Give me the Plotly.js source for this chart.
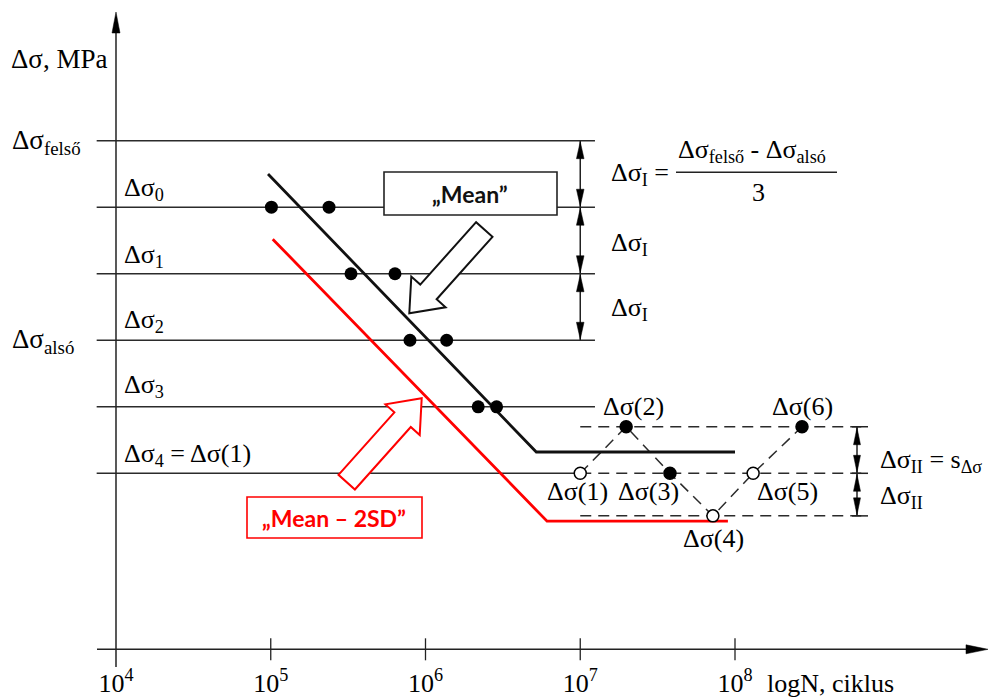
<!DOCTYPE html>
<html><head><meta charset="utf-8">
<script src="https://cdn.plot.ly/plotly-3.0.1.min.js"></script>
<style>html,body{margin:0;padding:0;background:#fff;}#chart{width:989px;height:699px;}</style>
</head><body><div id="chart"></div>
<script>
// ---------------- data (schematic values) ----------------
const levelSubs   = ['felső', '0', '1', '2', '3', '4'];
const levelValues = [350, 300, 250, 200, 150, 100];          // Δσ levels (MPa, schematic)
const levelStartN = 7.5e3;
const levelEndN   = [1.245e7, 1.245e7, 1.245e7, 1.245e7, 1.245e7, 1.0e7];

const testN = [1.01e5, 2.38e5, 3.30e5, 6.35e5, 7.94e5, 1.37e6, 2.19e6, 2.88e6];
const testS = [300, 300, 250, 250, 200, 200, 150, 150];

const meanN = [9.6e4, 5.2e6, 1.0e8];
const meanS = [325, 116, 116];
const lowN  = [1.03e5, 6.1e6, 9.0e7];
const lowS  = [276, 64, 64];

const stairN      = [1.0e7, 1.98e7, 3.8e7, 7.2e7, 1.31e8, 2.71e8];
const stairS      = [100, 135, 100, 68, 100, 135];
const stairFailed = [false, true, true, false, false, true];
const stairLabels = ['Δσ(1)', 'Δσ(2)', 'Δσ(3)', 'Δσ(4)', 'Δσ(5)', 'Δσ(6)'];

const stairLevels = [135, 100, 68];
const stairLevelStartN = 1.0e7;
const stairLevelEndN   = 7.24e8;

const tickVals = [1e4, 1e5, 1e6, 1e7, 1e8];
const tickText = ['10<sup>4</sup>', '10<sup>5</sup>', '10<sup>6</sup>', '10<sup>7</sup>', '10<sup>8</sup>'];

// ---------------- helpers ----------------
const W = 989, H = 699;
const XR = [3.2504, 9.6414], YR = [-69.65, 455.76];
const lx = N => Math.log10(N);
const PX = L => (L - XR[0]) / (XR[1] - XR[0]) * W;
const PY = s => (YR[1] - s) / (YR[1] - YR[0]) * H;
const pp = (x, y) => (x / W).toFixed(5) + ',' + (1 - y / H).toFixed(5);
const SERIF = 'Liberation Serif';
const RED = '#ff0000';

function segs(list) {
  const x = [], y = [];
  list.forEach(s => { x.push(s[0][0], s[1][0], null); y.push(s[0][1], s[1][1], null); });
  return {x, y};
}
function poly(pts, color, fill, width) {
  return {type: 'path', xref: 'paper', yref: 'paper', layer: 'above',
    path: pts.map((p, i) => (i ? 'L' : 'M') + pp(p[0], p[1])).join(' ') + ' Z',
    line: {color, width: width || 0}, fillcolor: fill};
}
function pline(x0, y0, x1, y1, color, width) {
  return {type: 'line', xref: 'paper', yref: 'paper', layer: 'above',
    x0: x0 / W, y0: 1 - y0 / H, x1: x1 / W, y1: 1 - y1 / H, line: {color, width}};
}
function head(tx, ty, dx, dy, len, hw, color) {
  const n = Math.hypot(dx, dy), ux = dx / n, uy = dy / n;
  const bx = tx - ux * len, by = ty - uy * len;
  return poly([[tx, ty], [bx - uy * hw, by + ux * hw], [bx + uy * hw, by - ux * hw]], color, color, 0.5);
}
function hollowArrow(tip, tail, shaftW, headW, headL, color) {
  const dx = tip[0] - tail[0], dy = tip[1] - tail[1], n = Math.hypot(dx, dy);
  const ux = dx / n, uy = dy / n, nx = -uy, ny = ux;
  const bx = tip[0] - ux * headL, by = tip[1] - uy * headL;
  const s = shaftW / 2, h = headW / 2;
  const pts = [
    [tail[0] + nx * s, tail[1] + ny * s], [bx + nx * s, by + ny * s], [bx + nx * h, by + ny * h],
    tip, [bx - nx * h, by - ny * h], [bx - nx * s, by - ny * s], [tail[0] - nx * s, tail[1] - ny * s]];
  return poly(pts, color, '#ffffff', 2);
}
function T(text, x, base, anchor, sub, size, color, family, bold) {
  size = size || 26;
  const yc = base - (sub ? 0.22 : 0.3375) * size;
  return {xref: 'paper', yref: 'paper', x: x / W, y: 1 - yc / H, xanchor: anchor, yanchor: 'middle',
    text: bold ? '<b>' + text + '</b>' : text, showarrow: false, borderpad: 0,
    font: {family: family || SERIF, size, color: color || '#000'}};
}

// ---------------- traces ----------------
const lvl = segs(levelValues.map((v, i) => [[lx(levelStartN), v], [lx(levelEndN[i]), v]]));
const dl = segs(stairLevels.map(v => [[lx(stairLevelStartN), v], [lx(stairLevelEndN), v]]));

const traces = [
  {x: lvl.x, y: lvl.y, mode: 'lines', line: {color: '#2b2b2b', width: 1.5}, hoverinfo: 'skip'},
  {x: dl.x, y: dl.y, mode: 'lines', line: {color: '#2b2b2b', width: 1.5, dash: '11px,7px'}, hoverinfo: 'skip'},
  {x: stairN.map(lx), y: stairS, mode: 'lines', line: {color: '#2b2b2b', width: 1.5, dash: '11px,7px'}, hoverinfo: 'skip'},
  {x: meanN.map(lx), y: meanS, mode: 'lines', line: {color: '#111', width: 2.8}},
  {x: lowN.map(lx), y: lowS, mode: 'lines', line: {color: RED, width: 2.8}},
  {x: testN.map(lx), y: testS, mode: 'markers', marker: {color: '#000', size: 13}},
  {x: stairN.map(lx), y: stairS, mode: 'markers',
    marker: {size: 12, color: stairFailed.map(f => f ? '#000' : '#fff'), line: {color: '#000', width: 1.5}}}
];

// ---------------- shapes ----------------
const axX = PX(lx(1e4)), axY = PY(-32.3);
const shapes = [];
shapes.push(pline(axX, 667, axX, 30, '#222', 1.5));
shapes.push(head(axX, 12, 0, -1, 21, 4, '#000'));
shapes.push(pline(97, axY, 968, axY, '#222', 1.5));
shapes.push(head(988, axY, 1, 0, 22, 4.5, '#000'));
tickVals.slice(1).forEach(t => shapes.push(pline(PX(lx(t)), axY - 11, PX(lx(t)), axY + 11, '#222', 1.3)));

const xa = PX(lx(1e7));
for (let i = 0; i < 3; i++) {
  const y0 = PY(levelValues[i]), y1 = PY(levelValues[i + 1]);
  shapes.push(pline(xa, y0, xa, y1, '#222', 1.5));
  shapes.push(head(xa, y0 + 1, 0, -1, 17, 3.8, '#000'));
  shapes.push(head(xa, y1 - 1, 0, 1, 17, 3.8, '#000'));
}
const xb = 857;
stairLevels.forEach(v => shapes.push(pline(852, PY(v), 868, PY(v), '#222', 1.5)));
for (let i = 0; i < 2; i++) {
  const y0 = PY(stairLevels[i]), y1 = PY(stairLevels[i + 1]);
  shapes.push(pline(xb, y0, xb, y1, '#222', 1.5));
  shapes.push(head(xb, y0 + 1, 0, -1, 17, 3.5, '#000'));
  shapes.push(head(xb, y1 - 1, 0, 1, 17, 3.5, '#000'));
}
shapes.push(pline(676, 172.3, 837, 172.3, '#222', 1.5));
shapes.push({type: 'rect', xref: 'paper', yref: 'paper', layer: 'above', x0: 384 / W, x1: 557 / W,
  y0: 1 - 172 / H, y1: 1 - 215 / H, line: {color: '#222', width: 1.6}, fillcolor: '#fff'});
shapes.push({type: 'rect', xref: 'paper', yref: 'paper', layer: 'above', x0: 247 / W, x1: 422 / W,
  y0: 1 - 497 / H, y1: 1 - 538 / H, line: {color: RED, width: 1.6}, fillcolor: '#fff'});
shapes.push(hollowArrow([409.3, 313.3], [484.3, 229.5], 22, 46, 28.7, '#111'));
shapes.push(hollowArrow([421.7, 398.3], [346.7, 482.2], 22, 46, 28.7, RED));

// ---------------- annotations ----------------
const ann = [];
ann.push(T('Δσ, MPa', 10, 68, 'left', false, 27));
ann.push(T('Δσ<sub>felső</sub>', 11, 148, 'left', true, 27));
ann.push(T('Δσ<sub>alsó</sub>', 11, 347, 'left', true, 27));
const levelBase = [null, 195, 262, 327, 392];
for (let i = 1; i <= 4; i++) ann.push(T('Δσ<sub>' + levelSubs[i] + '</sub>', 123, levelBase[i], 'left', true));
ann.push(T('Δσ<sub>' + levelSubs[5] + '</sub> = Δσ(1)', 123, 461, 'left', true));

ann.push(T('Δσ<sub>I</sub> =', 610, 180, 'left', true));
ann.push(T('Δσ<sub>felső</sub> - Δσ<sub>alsó</sub>', 677, 157, 'left', true));
ann.push(T('3', 758, 201, 'center', false));
ann.push(T('Δσ<sub>I</sub>', 610, 250, 'left', true));
ann.push(T('Δσ<sub>I</sub>', 610, 315, 'left', true));

const stairLabPos = [[577, 500], [633, 415], [648, 500], [713.5, 547], [787, 500], [802, 415]];
stairLabels.forEach((t, i) => ann.push(T(t, stairLabPos[i][0], stairLabPos[i][1], 'center', false)));

ann.push(T('Δσ<sub>II</sub> = s<sub>Δσ</sub>', 879, 467, 'left', true));
ann.push(T('Δσ<sub>II</sub>', 879, 503, 'left', true));
ann.push(T('logN, ciklus', 766, 692, 'left', false));

ann.push(T('„Mean”', 470, 202, 'center', false, 23, '#111', 'Lato', true));
ann.push(T('„Mean – 2SD”', 334, 526, 'center', false, 23, RED, 'Lato', true));

const layout = {
  width: W, height: H, margin: {l: 0, r: 0, t: 0, b: 0}, showlegend: false,
  paper_bgcolor: '#fff', plot_bgcolor: '#fff',
  xaxis: {range: XR, showgrid: false, zeroline: false, showline: false, ticks: '',
    tickvals: tickVals.map(lx), ticktext: tickText, anchor: 'free', position: 1 - axY / H,
    tickfont: {family: SERIF, size: 26, color: '#000'}, ticklabelstandoff: 16},
  yaxis: {range: YR, visible: false},
  shapes, annotations: ann
};
Plotly.newPlot('chart', traces, layout, {staticPlot: true});
</script></body></html>
